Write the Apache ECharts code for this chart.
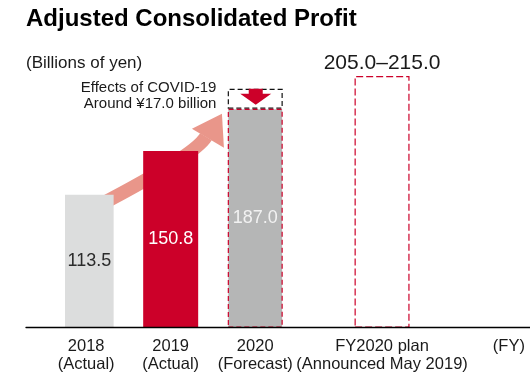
<!DOCTYPE html>
<html>
<head>
<meta charset="utf-8">
<script src="https://cdn.jsdelivr.net/npm/echarts@6/dist/echarts.min.js"></script>
<style>
html,body{margin:0;padding:0;background:#fff;}
#chart{width:530px;height:385px;}
</style>
</head>
<body>
<div id="chart"></div>
<script>
// ---- data ----
const categories = ['2018\n(Actual)', '2019\n(Actual)', '2020\n(Forecast)', 'FY2020 plan\n(Announced May 2019)', '(FY)'];
const profit = [113.5, 150.8, 187.0, null, null];
const covidEffect = [null, null, 17.0, null, null];
const planLow = [null, null, null, 205.0, null];
const planHigh = [null, null, null, 215.0, null];
const titleText = 'Adjusted Consolidated Profit';
const unitText = '(Billions of yen)';
const covidText = ['Effects of COVID-19', 'Around \u00A517.0 billion'];

// ---- layout / styles ----
const slotOf = [0, 2, 4, 7, 10];
const slotCount = 11;
const barColors = ['#DCDDDD', '#CC0029', '#B5B6B6'];
const labelColors = ['#2b2b2b', '#ffffff', '#f2f2f2'];
const CRIMSON = '#CC0029';
const TXT = '#1a1a1a';
const FONT = '"Liberation Sans", Arial, Helvetica, sans-serif';

const axisCats = new Array(slotCount).fill('');
categories.forEach((c, i) => { axisCats[slotOf[i]] = c; });

const profitData = new Array(slotCount).fill('-');
const covidData = new Array(slotCount).fill('-');
const planData = new Array(slotCount).fill('-');
profit.forEach((v, i) => {
  if (v == null) return;
  const item = {
    value: v,
    itemStyle: { color: barColors[i] },
    label: { color: labelColors[i] }
  };
  if (i === 2) {
    item.itemStyle.borderColor = CRIMSON;
    item.itemStyle.borderWidth = 1.2;
    item.itemStyle.borderType = [5, 3];
  }
  profitData[slotOf[i]] = item;
});
covidEffect.forEach((v, i) => { if (v != null) covidData[slotOf[i]] = v; });
planHigh.forEach((v, i) => { if (v != null) planData[slotOf[i]] = { value: v, low: planLow[i] }; });

const chart = echarts.init(document.getElementById('chart'), null, { renderer: 'canvas' });

const option = {
  animation: false,
  backgroundColor: '#fff',
  textStyle: { fontFamily: FONT },
  grid: [
    { left: 65, right: 0, top: 35, bottom: 57.4 },
    { left: 26, right: 0, top: 35, bottom: 57.4 }
  ],
  xAxis: [
    {
      type: 'category', gridIndex: 0, data: axisCats,
      axisLine: { show: false }, axisTick: { show: false },
      axisLabel: { interval: 0, fontSize: 16.5, lineHeight: 18, color: TXT, margin: 10, fontFamily: FONT }
    },
    {
      type: 'value', gridIndex: 1, min: 0, max: 1, z: 10,
      axisLine: { show: true, lineStyle: { color: '#000', width: 1.3 } },
      axisTick: { show: false }, axisLabel: { show: false }, splitLine: { show: false }
    }
  ],
  yAxis: [
    { type: 'value', gridIndex: 0, min: 0, max: 250, show: false },
    { type: 'value', gridIndex: 1, min: 0, max: 1, show: false }
  ],
  series: [
    {
      name: 'profit', type: 'bar', stack: 'main', barWidth: 55, z: 3,
      data: profitData,
      label: { show: true, position: 'inside', fontSize: 18, fontFamily: FONT,
               formatter: p => Number(p.value).toFixed(1) }
    },
    {
      name: 'covid', type: 'bar', stack: 'main', barWidth: 55, z: 2,
      data: covidData,
      itemStyle: { color: 'rgba(255,255,255,0)', borderColor: '#111', borderWidth: 1.2, borderType: [5, 3] }
    },
    {
      name: 'plan', type: 'bar', stack: 'main', barWidth: 55, z: 2,
      data: planData,
      itemStyle: { color: 'rgba(255,255,255,0)', borderColor: CRIMSON, borderWidth: 1.2, borderType: [7, 3] },
      label: { show: true, position: 'top', distance: 2, fontSize: 21, color: TXT, fontFamily: FONT,
               formatter: p => p.data.low.toFixed(1) + '\u2013' + p.value.toFixed(1) }
    }
  ]
};
chart.setOption(option);

// ---- annotations positioned from the chart's own scales ----
const px = (i, v) => chart.convertToPixel({ gridIndex: 0 }, [slotOf[i], v]);
const p18 = px(0, profit[0]);
const p19 = px(1, profit[1]);
const p20 = px(2, profit[2]);
const pCovidTop = px(2, profit[2] + covidEffect[2]);

const arrowColor = '#E9968A';
const start = [p18[0] + 14, p18[1] + 10];
const ctrl = [p19[0] + 24.3, p19[1] + 4];
const end = [p20[0] - 49.3, p20[1] + 28];

// red down arrow inside COVID box
const cx = p20[0] + 0.5;
const tipY = p20[1] - 4;
const headH = 11, headW = 31, shaftW = 14;
const shaftTop = pCovidTop[1];
const headTop = Math.max(tipY - headH, shaftTop + 2);

chart.setOption({
  graphic: [
    { type: 'text', z: 20, style: { x: 26, y: 19.5, text: titleText, font: 'bold 24px ' + FONT, fill: '#000', textAlign: 'left', textVerticalAlign: 'middle' } },
    { type: 'text', z: 20, style: { x: 26, y: 63.4, text: unitText, font: '17px ' + FONT, fill: TXT, textAlign: 'left', textVerticalAlign: 'middle' } },
    { type: 'text', z: 20, style: { x: 216.4, y: 87.6, text: covidText[0], font: '15px ' + FONT, fill: TXT, textAlign: 'right', textVerticalAlign: 'middle' } },
    { type: 'text', z: 20, style: { x: 216.4, y: 104, text: covidText[1], font: '15px ' + FONT, fill: TXT, textAlign: 'right', textVerticalAlign: 'middle' } },
    { type: 'bezierCurve', z: 0, shape: { x1: start[0], y1: start[1], cpx1: ctrl[0], cpy1: ctrl[1], x2: end[0], y2: end[1] },
      style: { stroke: arrowColor, lineWidth: 13.5, fill: null } },
    { type: 'polygon', z: 0, shape: { points: [[p20[0] - 63.3, p20[1] + 20], [p20[0] - 33.3, p20[1] + 5], [p20[0] - 31.3, p20[1] + 39]] },
      style: { fill: arrowColor } },
    { type: 'polygon', z: 20, shape: { points: [
        [cx - shaftW / 2, shaftTop], [cx + shaftW / 2, shaftTop], [cx + shaftW / 2, headTop],
        [cx + headW / 2, headTop], [cx, tipY], [cx - headW / 2, headTop], [cx - shaftW / 2, headTop]
      ] }, style: { fill: CRIMSON } }
  ]
});
</script>
</body>
</html>
